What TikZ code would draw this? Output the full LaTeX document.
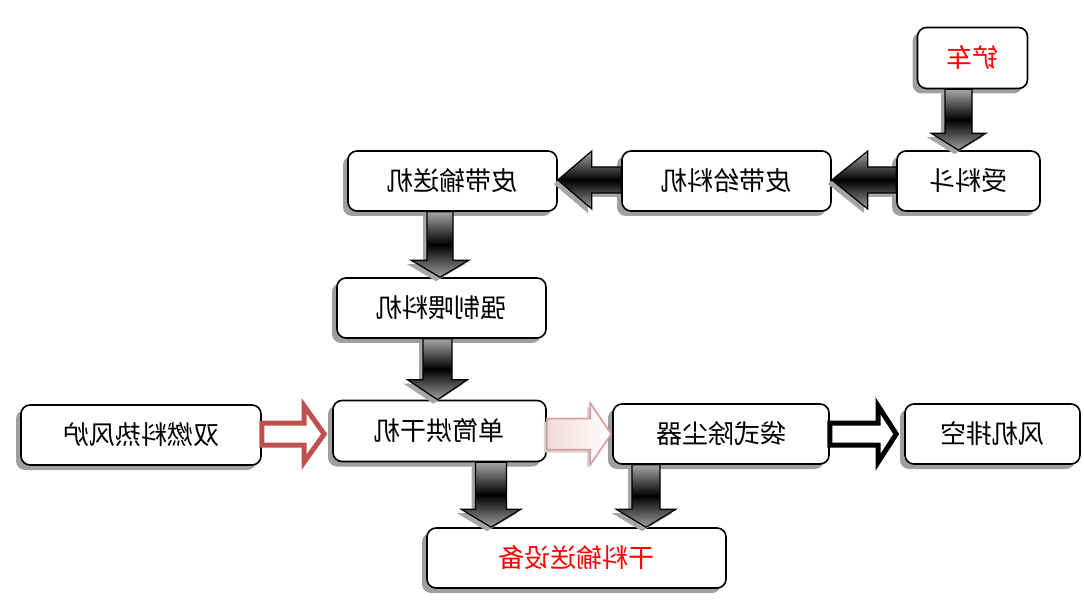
\documentclass[tikz,border=0pt]{standalone}
\usepackage{fontspec}
\newfontfamily\cjk{Noto Sans CJK SC}
\usetikzlibrary{calc,shadows}
\definecolor{myred}{HTML}{C0504D}
\definecolor{mypink}{HTML}{D99694}
\tikzset{
  box/.style={draw=black, line width=1.6pt, rounded corners=9pt, fill=white,
    drop shadow={shadow xshift=-5pt, shadow yshift=-5pt, fill=gray!75, opacity=1},
    font=\cjk\fontsize{26}{30}\selectfont, inner sep=0pt},
  darkarrow/.style={draw=black, line width=1.2pt, top color=gray!70, bottom color=gray!75, middle color=black,
    drop shadow={shadow xshift=-4pt, shadow yshift=-4pt, fill=gray!70, opacity=1}},
  redarrow/.style={draw=myred, line width=5pt, fill=white, line join=miter},
  blackarrow/.style={draw=black, line width=5pt, fill=white, line join=miter},
  pinkarrow/.style={draw=mypink, line width=1.5pt, left color=mypink!35, right color=white,
    drop shadow={shadow xshift=-3pt, shadow yshift=-3pt, fill=gray!35, opacity=1}},
}
% down arrow: A, B, xc, shaft half width, head half width, head length, style
\newcommand\dnarrow[7]{%
  \path[#7] let \p1=(#1.south), \p2=(#2.north) in
    ({#3pt-#4pt},\y1) -- ({#3pt+#4pt},\y1) -- ({#3pt+#4pt},{\y2+#6pt})
    -- ({#3pt+#5pt},{\y2+#6pt}) -- (#3pt,\y2) -- ({#3pt-#5pt},{\y2+#6pt})
    -- ({#3pt-#4pt},{\y2+#6pt}) -- cycle;}
% left arrow: A (right), B (left), yc, shaft half width, head half width, head length, style
\newcommand\lfarrow[7]{%
  \path[#7] let \p1=(#1.west), \p2=(#2.east) in
    (\x1,{-#3pt+#4pt}) -- ({\x2+#6pt},{-#3pt+#4pt}) -- ({\x2+#6pt},{-#3pt+#5pt})
    -- (\x2,-#3pt) -- ({\x2+#6pt},{-#3pt-#5pt}) -- ({\x2+#6pt},{-#3pt-#4pt})
    -- (\x1,{-#3pt-#4pt}) -- cycle;}
% right arrow: A (left), B (right), yc, shaft half width, head half width, head length, gap, style
\newcommand\rtarrow[8]{%
  \path[#8] let \p1=(#1.east), \p2=(#2.west) in
    (\x1,{-#3pt+#4pt}) -- ({\x2-#7pt-#6pt},{-#3pt+#4pt}) -- ({\x2-#7pt-#6pt},{-#3pt+#5pt})
    -- ({\x2-#7pt},-#3pt) -- ({\x2-#7pt-#6pt},{-#3pt-#5pt}) -- ({\x2-#7pt-#6pt},{-#3pt-#4pt})
    -- (\x1,{-#3pt-#4pt}) -- cycle;}
\begin{document}
\begin{tikzpicture}[x=1pt,y=-1pt]
\useasboundingbox[fill=white] (0,0) rectangle (1084,601);

\node[box, minimum width=110pt, minimum height=61pt, text=red] (chanche) at (972.5,58) {\reflectbox{铲车}};
\node[box, minimum width=143pt, minimum height=60pt] (shouliao) at (968.5,181) {\reflectbox{受料斗}};
\node[box, minimum width=209pt, minimum height=60pt] (geiliao) at (726.5,181) {\reflectbox{皮带给料机}};
\node[box, minimum width=209pt, minimum height=60pt] (shusong) at (452.5,181) {\reflectbox{皮带输送机}};
\node[box, minimum width=209pt, minimum height=60pt] (weiliao) at (441.5,308) {\reflectbox{强制喂料机}};
\node[box, minimum width=213pt, minimum height=61pt] (hongan) at (439.5,431) {\reflectbox{单筒烘干机}};
\node[box, minimum width=240pt, minimum height=60pt] (refeng) at (141,435) {\reflectbox{双燃料热风炉}};
\node[box, minimum width=216pt, minimum height=60pt] (chuchen) at (721,434) {\reflectbox{袋式除尘器}};
\node[box, minimum width=175pt, minimum height=60pt] (fengji) at (992.5,434) {\reflectbox{风机排空}};
\node[box, minimum width=299pt, minimum height=60pt, text=red] (ganliao) at (576.5,558) {\reflectbox{干料输送设备}};

\dnarrow{chanche}{shouliao}{958.5}{13.5}{27.5}{17}{darkarrow}
\lfarrow{shouliao}{geiliao}{180}{13}{29}{36}{darkarrow}
\lfarrow{geiliao}{shusong}{180}{13}{29}{34}{darkarrow}
\dnarrow{shusong}{weiliao}{440}{13}{29}{17}{darkarrow}
\dnarrow{weiliao}{hongan}{437.5}{14.5}{30}{20}{darkarrow}
\dnarrow{hongan}{ganliao}{491}{15.5}{30}{18}{darkarrow}
\dnarrow{chuchen}{ganliao}{646}{14}{30}{18}{darkarrow}

\rtarrow{refeng}{hongan}{434}{11}{28}{20}{8}{redarrow}
\rtarrow{hongan}{chuchen}{434}{15.5}{31}{21}{1}{pinkarrow}
\rtarrow{chuchen}{fengji}{434}{11}{28}{18}{8}{blackarrow}
\end{tikzpicture}
\end{document}
